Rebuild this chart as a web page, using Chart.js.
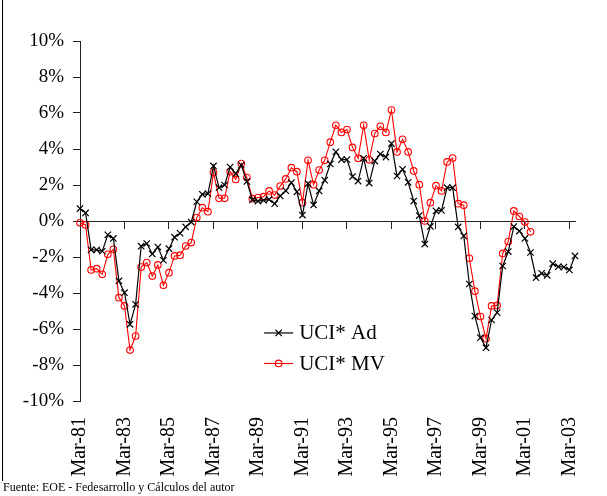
<!DOCTYPE html>
<html>
<head>
<meta charset="utf-8">
<script src="https://cdn.jsdelivr.net/npm/chart.js@4.4.0/dist/chart.umd.min.js"></script>
<style>
  body { margin: 0; background: #fff; }
  #wrap { position: relative; width: 607px; height: 496px; }
  #frame { position: absolute; left: 2px; top: 0; height: 481px; border-left: 1px solid #000; }
  #source { position: absolute; left: 3px; top: 480px; font: 12px "Liberation Serif", serif; color: #000; white-space: nowrap; }
</style>
</head>
<body>
<div id="wrap">
  <canvas id="my-chart"></canvas>
  <div id="frame"></div>
  <div id="source">Fuente: EOE - Fedesarrollo y Cálculos del autor</div>
</div>
<script>
// quarters Mar-81 .. Jun-03
const months = ["Mar", "Jun", "Sep", "Dic"];
const firstYear = 1981;
const lastYear = 2003;
const quarterCount = 90;
const tickEvery = 8; // one label every two years

// UCI* Ad (black, crosses)
const uciAd = [
  0.69, 0.45, -1.6, -1.6, -1.68, -0.77, -0.97, -3.33, -3.98, -5.74,
  -4.63, -1.4, -1.25, -1.83, -1.45, -2.18, -1.54, -0.9, -0.68, -0.33,
  -0.06, 1.07, 1.48, 1.52, 3.06, 1.85, 2.0, 3.0, 2.63, 3.1,
  2.2, 1.17, 1.1, 1.15, 1.2, 0.96, 1.39, 1.68, 2.13, 1.62,
  0.33, 2.08, 0.89, 1.67, 2.27, 3.17, 3.84, 3.41, 3.41, 2.47,
  2.22, 3.48, 2.11, 3.33, 3.72, 3.55, 4.3, 2.5, 2.87, 2.15,
  1.11, 0.3, -1.28, -0.3, 0.56, 0.59, 1.85, 1.85, -0.33, -0.83,
  -3.5, -5.28, -6.48, -7.04, -5.5, -5.09, -2.5, -1.7, -0.31, -0.56,
  -0.97, -1.75, -3.15, -2.91, -3.02, -2.37, -2.54, -2.56, -2.72, -1.94
];

// UCI* MV (red, circles) - ends Jun-01
const uciMv = [
  -0.1, -0.22, -2.72, -2.65, -2.96, -1.85, -1.57, -4.26, -4.72, -7.17,
  -6.39, -2.56, -2.31, -3.06, -2.44, -3.57, -2.87, -1.94, -1.9, -1.39,
  -1.2, 0.19, 0.74, 0.52, 2.69, 1.26, 1.26, 2.74, 2.31, 3.19,
  2.41, 1.24, 1.3, 1.35, 1.67, 1.44, 1.94, 2.34, 2.96, 2.74,
  1.02, 3.37, 2.02, 2.83, 3.37, 4.38, 5.32, 4.92, 5.08, 4.09,
  3.48, 5.32, 3.4, 4.86, 5.26, 4.92, 6.16, 3.84, 4.54, 3.84,
  2.78, 2.02, 0.0, 1.02, 1.96, 1.67, 3.28, 3.5, 0.96, 0.88,
  -2.07, -3.9, -5.31, -6.54, -4.72, -4.69, -1.8, -1.14, 0.56, 0.25,
  -0.06, -0.6
];

const yMin = -10;
const yMax = 10;
const yStep = 2;

const quarters = [];
for (let y = firstYear; y <= lastYear; y++) {
  months.forEach((m) => quarters.push(`${m}-${String(y).slice(2)}`));
}
const labels = quarters.slice(0, quarterCount);

const serif = '"Liberation Serif", "Times New Roman", serif';

// legend drawn inside the plot: line + marker + label
const lineLegend = {
  id: "lineLegend",
  afterDraw(chart) {
    const { ctx, chartArea } = chart;
    const x0 = chartArea.left + chartArea.width * 0.372;
    const len = 29;
    let y = chartArea.top + chartArea.height * 0.811;
    ctx.save();
    chart.data.datasets.forEach((ds) => {
      const mx = x0 + len / 2;
      ctx.strokeStyle = ds.borderColor;
      ctx.lineWidth = ds.borderWidth;
      ctx.beginPath();
      ctx.moveTo(x0, y);
      ctx.lineTo(x0 + len, y);
      ctx.stroke();
      ctx.beginPath();
      if (ds.pointStyle === "crossRot") {
        const d = ds.pointRadius * Math.SQRT1_2;
        ctx.moveTo(mx - d, y - d);
        ctx.lineTo(mx + d, y + d);
        ctx.moveTo(mx - d, y + d);
        ctx.lineTo(mx + d, y - d);
      } else {
        ctx.arc(mx, y, ds.pointRadius, 0, Math.PI * 2);
      }
      ctx.stroke();
      ctx.fillStyle = "#000";
      ctx.font = `21px ${serif}`;
      ctx.textBaseline = "middle";
      ctx.fillText(ds.label, x0 + len + 6, y + 1);
      y += 30.5;
    });
    ctx.restore();
  },
};

const ctx = document.getElementById("my-chart").getContext("2d");

const chart = new Chart(ctx, {
  type: "line",
  data: {
    labels: labels,
    datasets: [
      {
        label: "UCI* Ad",
        data: uciAd,
        borderColor: "#000",
        borderWidth: 1.2,
        pointStyle: "crossRot",
        pointRadius: 4.5,
        pointBorderWidth: 1.2,
        pointBorderColor: "#000",
        pointBackgroundColor: "transparent",
        tension: 0,
      },
      {
        label: "UCI* MV",
        data: uciMv,
        borderColor: "#ff0000",
        borderWidth: 1.1,
        pointStyle: "circle",
        pointRadius: 3.3,
        pointBorderWidth: 1.1,
        pointBorderColor: "#ff0000",
        pointBackgroundColor: "transparent",
        tension: 0,
      },
    ],
  },
  options: {
    responsive: true,
    maintainAspectRatio: false,
    animation: false,
    layout: { padding: { top: 41, right: 8, bottom: 0, left: 0 } },
    plugins: {
      legend: { display: false },
      tooltip: { enabled: false },
    },
    scales: {
      x: {
        type: "category",
        grid: { display: false },
        border: { display: false },
        ticks: {
          autoSkip: false,
          minRotation: 90,
          maxRotation: 90,
          padding: 8,
          color: "#000",
          font: { family: serif, size: 20 },
          callback: function (val, i) {
            return i % tickEvery === 0 ? this.getLabelForValue(val) : "";
          },
        },
        afterFit(scale) {
          scale.height = 95;
        },
      },
      zeroLine: {
        type: "category",
        axis: "x",
        position: { y: 0 },
        grid: {
          drawOnChartArea: false,
          tickLength: 7,
          color: (c) => (c.index % tickEvery === 0 ? "#222" : "rgba(0,0,0,0)"),
        },
        border: { display: true, color: "#222", width: 1 },
        ticks: { display: false, autoSkip: false },
      },
      y: {
        min: yMin,
        max: yMax,
        ticks: {
          stepSize: yStep,
          padding: 9,
          color: "#000",
          font: { family: serif, size: 19 },
          callback: (v) => `${v}%`,
        },
        grid: { drawOnChartArea: false, tickLength: 7, color: "#222" },
        border: { color: "#222" },
        afterFit(scale) {
          scale.width = 80;
        },
      },
    },
  },
  plugins: [lineLegend],
});
</script>
</body>
</html>
